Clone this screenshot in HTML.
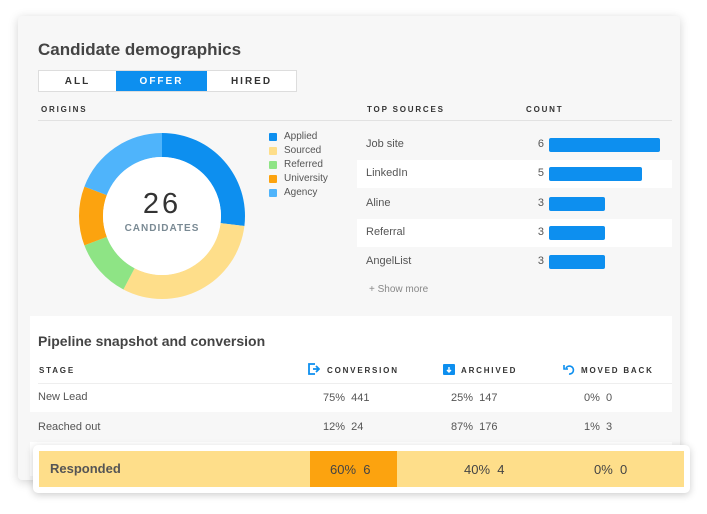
<!DOCTYPE html>
<html><head><meta charset="utf-8"><style>
*{box-sizing:border-box;margin:0;padding:0}
body{width:707px;height:514px;background:#fff;font-family:"Liberation Sans",sans-serif;color:#444;position:relative;overflow:hidden}
.abs{position:absolute}
.cap{font-size:8px;font-weight:bold;letter-spacing:1.8px;color:#333}
.txt{font-size:11px;color:#555}
</style></head><body>
<div class="abs" style="left:18px;top:16px;width:662px;height:464px;background:#f7f7f7;border-radius:4px;box-shadow:0 2px 10px rgba(0,0,0,.18)"></div>
<div class="abs" style="left:38px;top:40px;font-size:17px;font-weight:bold;color:#444">Candidate demographics</div>
<div class="abs" style="left:38px;top:70px;width:259px;height:22px;border:1px solid #ddd;background:#fff;display:flex;font-size:10px;font-weight:bold;letter-spacing:2px">
<div style="width:77px;text-align:center;line-height:22px;color:#333">ALL</div>
<div style="width:91px;text-align:center;line-height:22px;background:#0d8fef;color:#fff">OFFER</div>
<div style="flex:1;text-align:center;line-height:22px;color:#333">HIRED</div>
</div>
<div class="abs cap" style="left:41px;top:105px">ORIGINS</div>
<div class="abs cap" style="left:367px;top:105px">TOP SOURCES</div>
<div class="abs cap" style="left:526px;top:105px">COUNT</div>
<div class="abs" style="left:38px;top:120px;width:634px;height:1px;background:#e2e2e2"></div>
<svg class="abs" id="donut" style="left:0;top:0" width="707" height="514"></svg>
<div class="abs" style="left:112px;top:188px;width:100px;text-align:center;font-size:29px;letter-spacing:3px;color:#333">26</div>
<div class="abs" style="left:112px;top:223px;width:100px;text-align:center;font-size:10px;font-weight:bold;letter-spacing:1px;color:#7a8a94">CANDIDATES</div>
<div id="legend"></div>
<div id="sources"></div>
<div class="abs" style="left:369px;top:284px;font-size:10px;color:#888">+ Show more</div>

<div class="abs" style="left:30px;top:316px;width:642px;height:160px;background:#fff"></div>
<div class="abs" style="left:38px;top:333px;font-size:14px;font-weight:bold;color:#444">Pipeline snapshot and conversion</div>
<div class="abs cap" style="left:39px;top:366px">STAGE</div>
<svg class="abs" style="left:308px;top:363px" width="12" height="12"><path d="M7 1H1v10h6M5 6h6M8 3l3 3-3 3" fill="none" stroke="#0d8fef" stroke-width="1.8"/></svg>
<div class="abs cap" style="left:327px;top:366px">CONVERSION</div>
<svg class="abs" style="left:443px;top:363px" width="12" height="12"><rect x="0" y="1" width="12" height="11" rx="1" fill="#0d8fef"/><path d="M6 4v5M4 7l2 2 2-2" stroke="#fff" stroke-width="1.4" fill="none"/></svg>
<div class="abs cap" style="left:461px;top:366px">ARCHIVED</div>
<svg class="abs" style="left:563px;top:363px" width="13" height="12"><path d="M3 5a4 4 0 1 1 3 6M1 2v4h4" fill="none" stroke="#0d8fef" stroke-width="1.6"/></svg>
<div class="abs cap" style="left:581px;top:366px">MOVED BACK</div>
<div class="abs" style="left:38px;top:383px;width:634px;height:1px;background:#eee"></div>
<div class="abs" style="left:30px;top:384px;width:642px;height:28px"></div>
<div class="abs txt" style="left:38px;top:391px">New Lead</div>
<div class="abs txt" style="left:323px;top:392px">75%&nbsp;&nbsp;441</div>
<div class="abs txt" style="left:451px;top:392px">25%&nbsp;&nbsp;147</div>
<div class="abs txt" style="left:584px;top:392px">0%&nbsp;&nbsp;0</div>
<div class="abs" style="left:30px;top:412px;width:642px;height:30px;background:#f7f7f7"></div>
<div class="abs txt" style="left:38px;top:421px">Reached out</div>
<div class="abs txt" style="left:323px;top:421px">12%&nbsp;&nbsp;24</div>
<div class="abs txt" style="left:451px;top:421px">87%&nbsp;&nbsp;176</div>
<div class="abs txt" style="left:584px;top:421px">1%&nbsp;&nbsp;3</div>

<div class="abs" style="left:33px;top:445px;width:657px;height:48px;background:#fff;border-radius:5px;box-shadow:0 2px 8px rgba(0,0,0,.2)"></div>
<div class="abs" style="left:39px;top:451px;width:645px;height:36px;background:#fede8a"></div>
<div class="abs" style="left:310px;top:451px;width:87px;height:36px;background:#fca30f"></div>
<div class="abs" style="left:50px;top:461px;font-size:13px;font-weight:bold;color:#555">Responded</div>
<div class="abs" style="left:330px;top:462px;font-size:13px;color:#444">60%&nbsp;&nbsp;6</div>
<div class="abs" style="left:464px;top:462px;font-size:13px;color:#444">40%&nbsp;&nbsp;4</div>
<div class="abs" style="left:594px;top:462px;font-size:13px;color:#444">0%&nbsp;&nbsp;0</div>

<script>
const originLabels=["Applied","Sourced","Referred","University","Agency"];
const originValues=[7,8,3,3,5];
const originColors=["#0d8fef","#fede8a","#8ee485","#fca30f","#4fb4fb"];
const sourceLabels=["Job site","LinkedIn","Aline","Referral","AngelList"];
const sourceCounts=[6,5,3,3,3];

const NS="http://www.w3.org/2000/svg";
const svg=document.getElementById('donut');
const cx=162,cy=216,R=83,r=59;
const total=originValues.reduce((a,b)=>a+b,0);
let acc=0;
function pt(a,rad){return [cx+rad*Math.sin(a),cy-rad*Math.cos(a)];}
originValues.forEach((v,i)=>{
  const a0=acc/total*2*Math.PI; acc+=v; const a1=acc/total*2*Math.PI;
  const lg=(a1-a0)>Math.PI?1:0;
  const [x0,y0]=pt(a0,R),[x1,y1]=pt(a1,R),[x2,y2]=pt(a1,r),[x3,y3]=pt(a0,r);
  const p=document.createElementNS(NS,'path');
  p.setAttribute('d',`M${x0} ${y0}A${R} ${R} 0 ${lg} 1 ${x1} ${y1}L${x2} ${y2}A${r} ${r} 0 ${lg} 0 ${x3} ${y3}Z`);
  p.setAttribute('fill',originColors[i]);
  
  
  svg.appendChild(p);
});
const c=document.createElementNS(NS,'circle');
c.setAttribute('cx',cx);c.setAttribute('cy',cy);c.setAttribute('r',r);c.setAttribute('fill','#fff');


svg.appendChild(c);

const leg=document.getElementById('legend');
originLabels.forEach((l,i)=>{
  const d=document.createElement('div');
  
  
  d.className='abs';
  d.style.cssText=`left:269px;top:${131+i*14}px;font-size:10px;color:#555;display:flex;align-items:center`;
  d.innerHTML=`<span style="display:inline-block;width:8px;height:8px;background:${originColors[i]};margin-right:7px;border-radius:1px"></span>${l}`;
  leg.appendChild(d);
});

const src=document.getElementById('sources');
const x0=549, unit=18.5;
sourceLabels.forEach((l,i)=>{
  const y=130+i*29.3;
  if(i%2===1){
    const bg=document.createElement('div');
    
    
    bg.className='abs';
    bg.style.cssText=`left:357px;top:${y+1}px;width:315px;height:28px;background:#fff`;
    src.appendChild(bg);
  }
  const t=document.createElement('div');
  
  
  t.className='abs txt';t.style.cssText=`left:366px;top:${y+8}px`;t.textContent=l;src.appendChild(t);
  const n=document.createElement('div');
  
  
  n.className='abs txt';n.style.cssText=`left:530px;top:${y+8}px;width:14px;text-align:right`;n.textContent=sourceCounts[i];src.appendChild(n);
  const b=document.createElement('div');
  
  
  b.className='abs';b.style.cssText=`left:${x0}px;top:${y+8}px;width:${sourceCounts[i]*unit}px;height:14px;background:#0d8fef;border-radius:2px`;src.appendChild(b);
});
</script>
</body></html>
